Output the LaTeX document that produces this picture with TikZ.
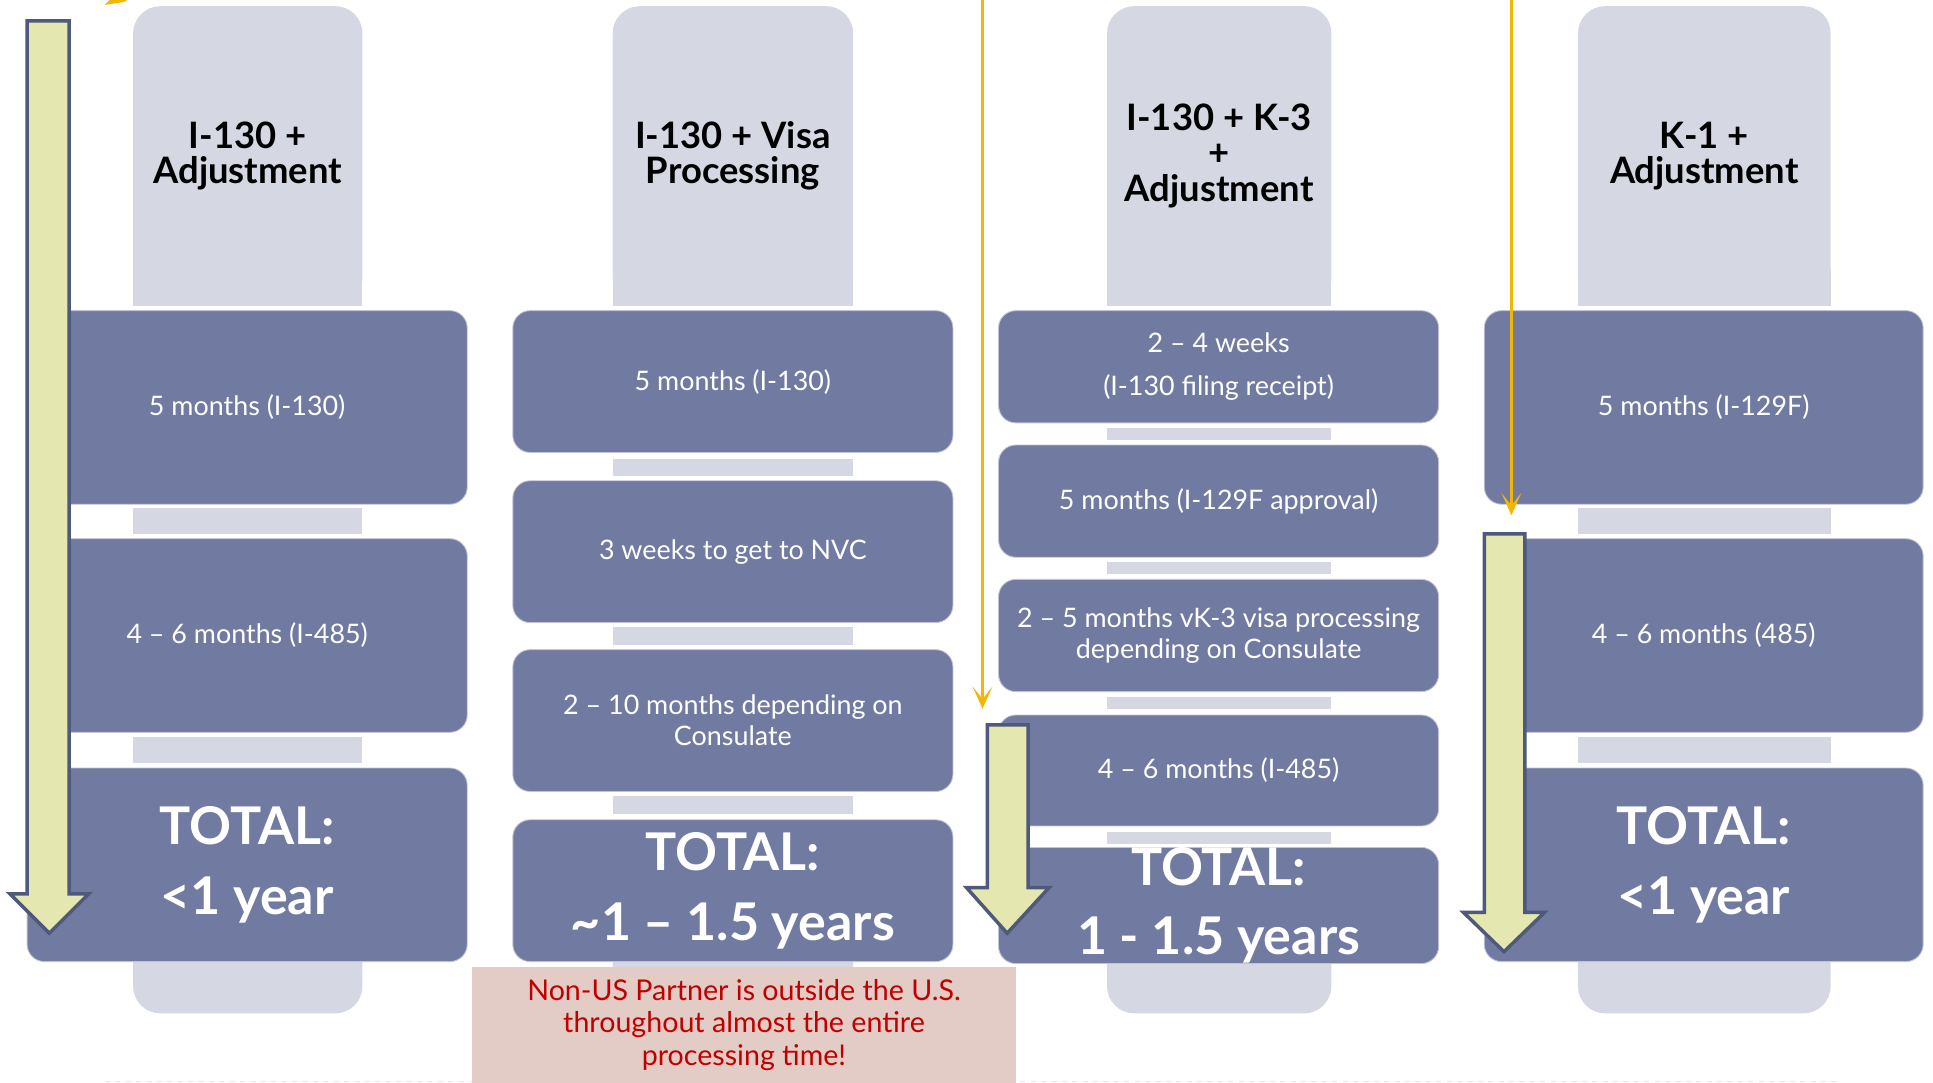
\documentclass[tikz,border=0pt]{standalone}
\usepackage{fontspec}
\setmainfont{Lato}
\usetikzlibrary{arrows.meta}
\definecolor{headgray}{HTML}{D5D8E2}
\definecolor{boxblue}{HTML}{717AA1}
\definecolor{arrowgreen}{HTML}{E4E8B0}
\definecolor{arrowedge}{HTML}{4F5979}
\definecolor{gold}{HTML}{F2B705}
\definecolor{notepink}{HTML}{E2CCC5}
\definecolor{notered}{HTML}{C00000}
\newcommand{\pxu}{0.025cm}
\newcommand{\period}[7][]{\node[period box, minimum width={(#5-#3)*\pxu}, minimum height={(#6-#4)*\pxu}, #1] (#2) at ({(#3+#5)/2},{(#4+#6)/2}) {#7};}
\newcommand{\header}[6]{\node[head box, minimum width={(#4-#2)*\pxu}, minimum height={(#5-#3)*\pxu}] (#1) at ({(#2+#4)/2},{(#3+#5)/2}) {#6};
	\fill[headgray] (#2, #5-30) rectangle (#4, #5);
	\fill[headgray, rounded corners=0.55cm] (#2, 760) rectangle (#4, 822);}
\tikzset{
	period box/.style={fill=boxblue, draw=white!55!boxblue, line width=0.5pt, rounded corners=0.35cm, text=white, align=center, inner sep=0pt, font=\fontsize{15.5}{18}\selectfont},
	total/.style={font=\bfseries\fontsize{30}{40}\selectfont},
	head box/.style={fill=headgray, rounded corners=0.55cm, align=center, inner sep=0pt, font=\bfseries\fontsize{21}{20.5}\selectfont},
	sep bar/.style={fill=headgray},
	green arrow/.style={fill=arrowgreen, draw=arrowedge, line width=2pt, line join=miter},
	gold line/.style={draw=gold, line width=1.5pt, -{Stealth[length=0.45cm, width=0.4cm, inset=0.25cm]}},
	note box/.style={fill=notepink, text=notered, align=center, inner sep=0pt, font=\fontsize{16.5}{19}\selectfont}
}

\begin{document}
\begin{tikzpicture}[x=0.025cm, y=-0.025cm]
	%%%%% FRAME %%%%%
	\useasboundingbox (0, 0) rectangle (1568, 878.5);
	\draw[dashed, color=headgray!60, line width=0.6pt] (85, 877) -- (1490, 877);
	\fill[gold] (85, 4) -- (89, 0) -- (103, 0) -- (101, 1.5) -- cycle;
	
	%%%%% HEADERS %%%%%
	\header{h1}{108}{5}{294}{248}{I-130 +\\Adjustment}
	\header{h2}{497}{5}{692}{248}{I-130 + Visa\\Processing}
	\header{h3}{898}{5}{1080}{248}{I-130 + K-3\\+\\Adjustment}
	\header{h4}{1280}{5}{1485}{248}{K-1 +\\Adjustment}
	
	%%%%% SEPARATORS %%%%%
	\fill[sep bar] (108, 412) rectangle (294, 433);
	\fill[sep bar] (108, 598) rectangle (294, 619);
	
	\fill[sep bar] (497, 372) rectangle (692, 386);
	\fill[sep bar] (497, 509) rectangle (692, 523);
	\fill[sep bar] (497, 646) rectangle (692, 660);
	
	\fill[sep bar] (898, 347) rectangle (1080, 357);
	\fill[sep bar] (898, 456) rectangle (1080, 466);
	\fill[sep bar] (898, 565) rectangle (1080, 575);
	\fill[sep bar] (898, 675) rectangle (1080, 685);
	
	\fill[sep bar] (1280, 412) rectangle (1485, 433);
	\fill[sep bar] (1280, 598) rectangle (1485, 619);
	
	%%%%% PERIODS %%%%%
	\period{a1}{22}{252}{379}{409}{5 months (I-130)}
	\period{a2}{22}{437}{379}{594}{4 – 6 months (I-485)}
	\period[total]{a3}{22}{623}{379}{780}{TOTAL:\\<1 year}
	
	\period{b1}{416}{252}{773}{367}{5 months (I-130)}
	\period{b2}{416}{390}{773}{505}{3 weeks to get to NVC}
	\period{b3}{416}{527}{773}{642}{2 – 10 months depending on\\Consulate}
	\period[total]{b4}{416}{665}{773}{780}{TOTAL:\\\textasciitilde1 – 1.5 years}
	
	\period[font=\fontsize{15.5}{25}\selectfont]{c1}{810}{252}{1167}{343}{2 – 4 weeks\\(I-130 filing receipt)}
	\period{c2}{810}{361}{1167}{452}{5 months (I-129F approval)}
	\period{c3}{810}{470}{1167}{561}{2 – 5 months vK-3 visa processing\\depending on Consulate}
	\period{c4}{810}{580}{1167}{670}{4 – 6 months (I-485)}
	\period[total]{c5}{810}{689}{1167}{780}{TOTAL:\\1 - 1.5 years}
	
	\period{d1}{1204}{252}{1560}{409}{5 months (I-129F)}
	\period{d2}{1204}{437}{1560}{594}{4 – 6 months (485)}
	\period[total]{d3}{1204}{623}{1560}{780}{TOTAL:\\<1 year}
	
	%%%%% ARROWS %%%%%
	\draw[green arrow] (22, 17) -- (56, 17) -- (56, 725) -- (72, 725) -- (40, 757) -- (8, 725) -- (22, 725) -- cycle;
	\draw[green arrow] (801, 588) -- (834, 588) -- (834, 720) -- (851, 720) -- (817, 757) -- (784, 720) -- (801, 720) -- cycle;
	\draw[green arrow] (1204, 433) -- (1237, 433) -- (1237, 740) -- (1253, 740) -- (1220, 772) -- (1187, 740) -- (1204, 740) -- cycle;
	
	\coordinate (k3 start) at (797, 0);
	\coordinate (k3 end) at (797, 575);
	\draw[gold line] (k3 start) -- (k3 end);
	\coordinate (k1 start) at (1226, 0);
	\coordinate (k1 end) at (1226, 418);
	\draw[gold line] (k1 start) -- (k1 end);
	
	%%%%% NOTE %%%%%
	\node[note box, minimum width={441*\pxu}, minimum height={95*\pxu}] (note) at (603.5, 831.5) {Non-US Partner is outside the U.S.\\throughout almost the entire\\processing time!};
\end{tikzpicture}
\end{document}
